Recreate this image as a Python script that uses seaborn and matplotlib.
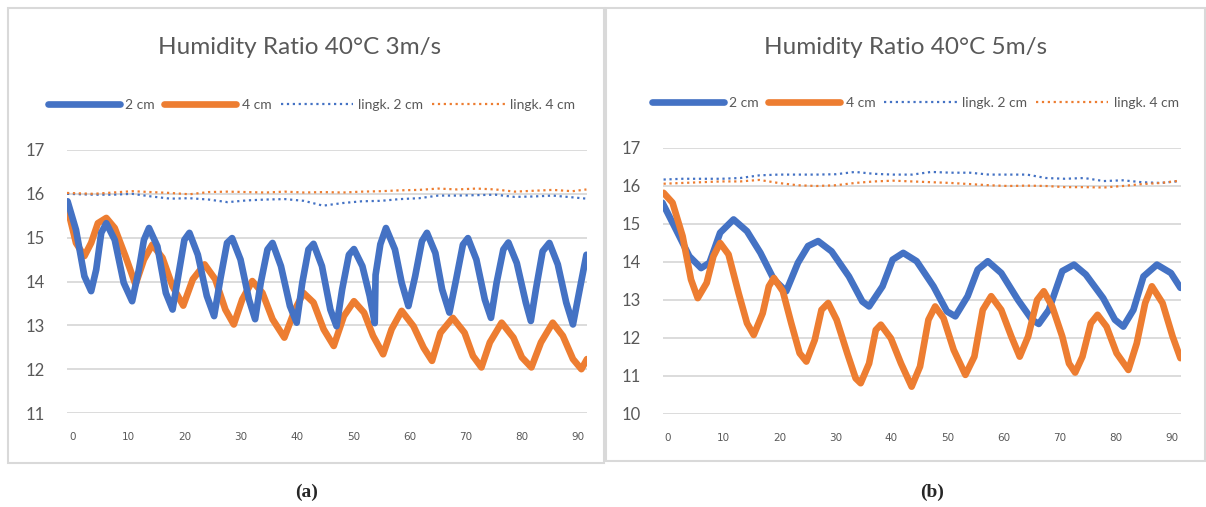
import numpy as np
import pandas as pd
import matplotlib
matplotlib.use("Agg")
import matplotlib.pyplot as plt
import seaborn as sns
from matplotlib.patches import Rectangle

# ---------------- data ----------------
titles = ["Humidity Ratio 40°C 3m/s", "Humidity Ratio 40°C 5m/s"]
panel_labels = ["(a)", "(b)"]
series_names = ["2 cm", "4 cm", "lingk. 2 cm", "lingk. 4 cm"]
x_ticks = [0, 10, 20, 30, 40, 50, 60, 70, 80, 90]

# panel (a)
a_2cm_x = [-0.9, 0.6, 2.1, 3.3, 4.2, 5.1, 6.0, 7.5, 9.1, 10.6, 11.8, 12.7, 13.6, 15.1, 16.6, 17.8,
           19.0, 19.9, 20.8, 22.3, 23.9, 25.2, 26.3, 27.5, 28.4, 29.9, 31.4, 32.5, 33.5, 34.7, 35.6,
           37.1, 38.7, 39.9, 40.9, 42.0, 42.9, 44.4, 45.9, 47.0, 48.0, 49.2, 50.1, 51.6, 52.9, 53.8,
           53.95, 54.8, 55.8, 57.4, 58.6, 59.8, 61.0, 62.2, 63.1, 64.6, 65.8, 67.1, 68.3, 69.5, 70.4,
           71.9, 73.4, 74.5, 75.5, 76.7, 77.6, 79.1, 80.7, 81.6, 82.5, 83.7, 84.9, 86.4, 87.9, 89.1,
           90.3, 91.5]
a_2cm_y = [15.83, 15.18, 14.12, 13.78, 14.27, 15.11, 15.33, 14.95, 13.97, 13.55, 14.27, 14.95, 15.22,
           14.80, 13.74, 13.36, 14.27, 14.95, 15.11, 14.61, 13.67, 13.21, 14.05, 14.88, 14.99, 14.50,
           13.59, 13.14, 13.97, 14.73, 14.88, 14.35, 13.44, 13.06, 13.97, 14.73, 14.86, 14.35, 13.36,
           12.98, 13.82, 14.61, 14.74, 14.35, 13.67, 13.05, 14.15, 14.85, 15.22, 14.73, 13.97, 13.44,
           14.12, 14.92, 15.11, 14.65, 13.82, 13.29, 14.05, 14.84, 14.99, 14.50, 13.59, 13.17, 13.97,
           14.73, 14.89, 14.42, 13.52, 13.10, 13.82, 14.69, 14.88, 14.39, 13.52, 13.02, 13.82, 14.61]
a_4cm_x = [-0.9, 0.6, 2.1, 3.3, 4.5, 6.0, 7.5, 9.4, 11.2, 12.7, 14.2, 16.0, 17.8, 19.7, 21.4, 23.5,
           25.4, 27.2, 28.7, 30.2, 32.0, 33.8, 35.6, 37.7, 39.6, 41.1, 42.9, 44.7, 46.5, 48.3, 50.1,
           51.9, 53.5, 55.3, 56.8, 58.6, 60.7, 62.5, 64.0, 65.5, 67.7, 69.8, 71.3, 72.8, 74.3, 76.4,
           78.5, 80.0, 81.7, 83.4, 85.5, 87.3, 89.1, 90.6, 91.6]
a_4cm_y = [15.67, 14.88, 14.58, 14.88, 15.33, 15.45, 15.22, 14.58, 13.93, 14.50, 14.84, 14.54, 13.89,
           13.45, 14.05, 14.39, 14.05, 13.36, 13.02, 13.59, 14.01, 13.74, 13.14, 12.72, 13.36, 13.74,
           13.52, 12.91, 12.53, 13.21, 13.55, 13.29, 12.76, 12.34, 12.91, 13.33, 12.98, 12.49, 12.19,
           12.83, 13.17, 12.83, 12.30, 12.04, 12.61, 13.06, 12.72, 12.27, 12.04, 12.61, 13.06, 12.76,
           12.23, 12.00, 12.23]
a_ref_x = [-1.0, 3.7, 7.2, 10.6, 14.0, 17.4, 20.8, 24.2, 27.6, 31.0, 34.4, 37.8, 41.2, 44.6,
           48.1, 51.5, 54.9, 58.3, 61.7, 65.1, 68.5, 71.9, 75.3, 78.7, 82.1, 85.5, 89.0, 91.5]
a_ref2_y = [16.00, 15.98, 15.98, 16.00, 15.94, 15.89, 15.90, 15.87, 15.81, 15.85, 15.87, 15.88, 15.84, 15.73,
            15.79, 15.83, 15.84, 15.88, 15.90, 15.96, 15.96, 15.97, 15.98, 15.93, 15.94, 15.96, 15.92, 15.89]
a_ref4_y = [16.02, 16.00, 16.03, 16.06, 16.04, 16.02, 15.99, 16.04, 16.05, 16.04, 16.03, 16.05, 16.03, 16.04,
            16.03, 16.05, 16.06, 16.08, 16.09, 16.12, 16.10, 16.12, 16.10, 16.05, 16.07, 16.09, 16.06, 16.10]

# panel (b)
b_2cm_x = [-0.9, 1.5, 3.9, 6.0, 7.5, 9.4, 11.8, 14.2, 16.6, 19.0, 21.2, 23.3, 25.1, 26.9, 29.3, 32.4,
           34.8, 36.0, 38.4, 40.2, 42.1, 44.5, 47.5, 49.9, 51.4, 53.6, 55.4, 57.2, 59.6, 62.6, 65.1,
           66.3, 68.1, 70.5, 72.6, 74.7, 77.8, 79.9, 81.4, 83.2, 85.0, 87.4, 89.9, 91.6]
b_2cm_y = [15.56, 14.86, 14.15, 13.84, 13.98, 14.77, 15.12, 14.81, 14.24, 13.54, 13.23, 13.98, 14.42,
           14.55, 14.28, 13.62, 12.96, 12.83, 13.36, 14.06, 14.24, 14.02, 13.36, 12.70, 12.57, 13.10,
           13.80, 14.02, 13.71, 13.00, 12.48, 12.37, 12.74, 13.76, 13.93, 13.67, 13.05, 12.48, 12.30,
           12.74, 13.62, 13.93, 13.71, 13.32]
b_4cm_x = [-0.7, 0.9, 2.7, 4.2, 5.4, 7.0, 8.2, 9.4, 10.9, 12.7, 14.2, 15.4, 17.0, 18.1, 19.0, 20.6,
           22.1, 23.6, 24.8, 26.3, 27.5, 28.7, 30.2, 32.1, 33.6, 34.5, 36.0, 37.2, 38.1, 39.9, 41.7,
           43.6, 45.1, 46.6, 47.8, 49.3, 51.1, 53.2, 54.8, 56.3, 57.8, 59.6, 61.4, 62.9, 64.4, 66.0,
           67.2, 68.7, 70.5, 71.7, 72.8, 74.1, 75.6, 76.8, 78.4, 80.2, 82.3, 83.8, 85.3, 86.5, 88.4,
           90.2, 91.6]
b_4cm_y = [15.82, 15.56, 14.68, 13.54, 13.05, 13.45, 14.15, 14.50, 14.20, 13.18, 12.39, 12.08, 12.65,
           13.36, 13.58, 13.23, 12.39, 11.60, 11.38, 11.95, 12.74, 12.92, 12.48, 11.60, 10.94, 10.81,
           11.33, 12.21, 12.35, 11.99, 11.33, 10.72, 11.25, 12.48, 12.83, 12.52, 11.69, 11.03, 11.51,
           12.74, 13.10, 12.74, 12.04, 11.51, 12.04, 13.00, 13.23, 12.83, 12.04, 11.33, 11.09, 11.51,
           12.39, 12.61, 12.30, 11.60, 11.16, 11.86, 12.92, 13.36, 12.92, 12.04, 11.47]
b_ref_x = [-0.7, 2.7, 6.1, 9.6, 13.0, 16.4, 19.8, 23.2, 26.6, 30.1, 33.5, 36.9, 40.3, 43.7,
           47.1, 50.6, 54.0, 57.4, 60.8, 64.2, 67.6, 71.0, 74.4, 77.9, 81.3, 84.7, 88.1, 91.5]
b_ref2_y = [16.17, 16.19, 16.19, 16.19, 16.21, 16.28, 16.30, 16.30, 16.30, 16.31, 16.37, 16.32, 16.30, 16.30,
            16.37, 16.35, 16.35, 16.30, 16.30, 16.30, 16.21, 16.19, 16.21, 16.13, 16.15, 16.10, 16.08, 16.13]
b_ref4_y = [16.06, 16.08, 16.10, 16.12, 16.12, 16.16, 16.08, 16.02, 16.00, 16.02, 16.08, 16.12, 16.14, 16.12,
            16.10, 16.08, 16.05, 16.02, 16.00, 16.01, 16.00, 15.97, 15.97, 15.96, 16.00, 16.05, 16.08, 16.14]

# ---------------- style ----------------
sns.set_style("white")
plt.rcParams["font.family"] = ["Lato", "DejaVu Sans"]
BLUE = "#4472C4"
ORANGE = "#ED7D31"
TXT = "#595959"
GRID = "#D9D9D9"

fig = plt.figure(figsize=(12.06, 5.07), dpi=100)

# panel frames
fig.patches.append(Rectangle((8 / 1206, 1 - 463 / 507), 596 / 1206, 455 / 507, transform=fig.transFigure,
                             fill=False, edgecolor=GRID, linewidth=1.5, zorder=0))
fig.patches.append(Rectangle((606 / 1206, 1 - 461 / 507), 599 / 1206, 453 / 507, transform=fig.transFigure,
                             fill=False, edgecolor=GRID, linewidth=1.5, zorder=0))

axes_pos = [
    [67 / 1206, (507 - 413) / 507, 520 / 1206, 263 / 507],
    [663 / 1206, (507 - 414) / 507, 518 / 1206, 266 / 507],
]
ylims = [(11, 17), (10, 17)]
xlims = [(-1.0, 91.6), (-0.8, 91.7)]
title_x = [300 / 1206, 906 / 1206]
legend_x = [0.47, 0.487]
label_x = [307 / 1206, 932 / 1206]

panels = [
    (a_2cm_x, a_2cm_y, a_4cm_x, a_4cm_y, a_ref_x, a_ref2_y, a_ref4_y),
    (b_2cm_x, b_2cm_y, b_4cm_x, b_4cm_y, b_ref_x, b_ref2_y, b_ref4_y),
]

for i, (x2, y2, x4, y4, xr, yr2, yr4) in enumerate(panels):
    ax = fig.add_axes(axes_pos[i])
    d2 = pd.DataFrame({"x": x2, "y": y2})
    d4 = pd.DataFrame({"x": x4, "y": y4})
    dr2 = pd.DataFrame({"x": xr, "y": yr2})
    dr4 = pd.DataFrame({"x": xr, "y": yr4})
    sns.lineplot(data=d2, x="x", y="y", ax=ax, color=BLUE, linewidth=4.8, label=series_names[0],
                 estimator=None, solid_joinstyle="round", solid_capstyle="round", zorder=3)
    sns.lineplot(data=d4, x="x", y="y", ax=ax, color=ORANGE, linewidth=4.8, label=series_names[1],
                 estimator=None, solid_joinstyle="round", solid_capstyle="round", zorder=4 if i == 1 else 2)
    sns.lineplot(data=dr2, x="x", y="y", ax=ax, color=BLUE, linewidth=1.6, linestyle=":",
                 label=series_names[2], estimator=None, zorder=3)
    sns.lineplot(data=dr4, x="x", y="y", ax=ax, color=ORANGE, linewidth=1.6, linestyle=":",
                 label=series_names[3], estimator=None, zorder=3)

    ax.set_ylim(*ylims[i])
    ax.set_xlim(*xlims[i])
    ax.set_yticks(range(ylims[i][0], ylims[i][1] + 1))
    ax.set_xticks(x_ticks)
    ax.grid(axis="y", color=GRID, linewidth=1.3)
    ax.set_axisbelow(True)
    for s in ax.spines.values():
        s.set_visible(False)
    ax.set_xlabel("")
    ax.set_ylabel("")
    ax.tick_params(axis="y", length=0, pad=16, labelsize=12, labelcolor=TXT)
    ax.tick_params(axis="x", length=0, pad=14, labelsize=7.5, labelcolor=TXT)
    for lab in ax.get_xticklabels():
        lab.set_fontfamily(["Liberation Sans Narrow", "DejaVu Sans"])

    fig.text(title_x[i], 1 - 47 / 507, titles[i], ha="center", va="center", fontsize=17.5, color=TXT)
    ax.legend(loc="lower center", bbox_to_anchor=(legend_x[i], 1.10), ncol=4,
              frameon=False, fontsize=10, handlelength=5.2, columnspacing=0.65,
              handletextpad=0.4, labelcolor=TXT)

    fig.text(label_x[i], 1 - 492 / 507, panel_labels[i], ha="center", va="center", fontsize=14,
             fontweight="bold", family="Liberation Serif")

fig.savefig("out.png", dpi=100)
